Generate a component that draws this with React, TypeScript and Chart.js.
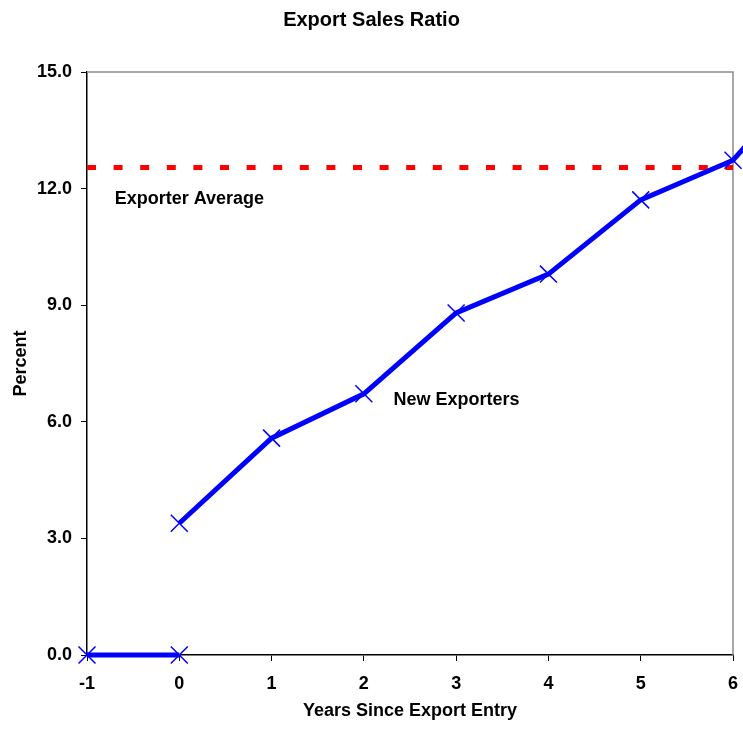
import React, { useEffect, useRef } from 'react';
import { Chart, registerables } from 'chart.js';

Chart.register(...registerables);

const FONT = "'Liberation Sans', Arial, Helvetica, sans-serif";

// Data
const preEntryYears = [-1, 0];
const preEntryValues = [0, 0];
const newExporterYears = [0, 1, 2, 3, 4, 5, 6, 7];
const newExporterValues = [3.39, 5.58, 6.72, 8.8, 9.8, 11.71, 12.73, 15.4];
const averageYears = [-1, 6];
const averageValues = [12.54, 12.54];
const xRange = [-1, 6];
const yRange = [0, 15];

const TITLE = 'Export Sales Ratio';
const X_TITLE = 'Years Since Export Entry';
const Y_TITLE = 'Percent';

const notes = [
  { text: 'Exporter Average', x: -0.7, y: 11.73 },
  { text: 'New Exporters', x: 2.32, y: 6.56 },
];

const BLUE = '#0000ff';
const RED = '#ff0000';

const framePlugin = {
  id: 'frame',
  beforeDatasetsDraw(chart: any) {
    const { ctx, chartArea: a } = chart;
    ctx.save();
    ctx.strokeStyle = '#8c8c8c';
    ctx.lineWidth = 1.5;
    ctx.beginPath();
    ctx.moveTo(a.left, a.top);
    ctx.lineTo(a.right, a.top);
    ctx.lineTo(a.right, a.bottom);
    ctx.stroke();
    ctx.restore();
  },
};

const notesPlugin = {
  id: 'notes',
  afterDatasetsDraw(chart: any) {
    const { ctx, scales } = chart;
    ctx.save();
    ctx.fillStyle = '#000';
    ctx.font = `bold 18px ${FONT}`;
    ctx.textAlign = 'left';
    ctx.textBaseline = 'middle';
    for (const n of notes) {
      ctx.fillText(n.text, scales.x.getPixelForValue(n.x), scales.y.getPixelForValue(n.y));
    }
    ctx.restore();
  },
};

export default function App() {
  const ref = useRef<HTMLCanvasElement>(null);

  useEffect(() => {
    if (!ref.current) return;
    const toPts = (xs: number[], ys: number[]) => xs.map((x, i) => ({ x, y: ys[i] }));
    const tickFont = { family: FONT, size: 18, weight: 'bold' as const };
    const chart = new Chart(ref.current, {
      type: 'line',
      data: {
        datasets: [
          {
            label: 'Pre-entry',
            data: toPts(preEntryYears, preEntryValues),
            borderColor: BLUE,
            borderWidth: 5,
            pointStyle: 'crossRot',
            pointRadius: 12,
            pointBorderWidth: 1.5,
            pointBorderColor: BLUE,
            pointBackgroundColor: BLUE,
            tension: 0,
            clip: false,
          },
          {
            label: 'New Exporters',
            data: toPts(newExporterYears, newExporterValues),
            borderColor: BLUE,
            borderWidth: 5,
            pointStyle: 'crossRot',
            pointRadius: 12,
            pointBorderWidth: 1.5,
            pointBorderColor: BLUE,
            pointBackgroundColor: BLUE,
            tension: 0,
            clip: false,
          },
          {
            label: 'Exporter Average',
            data: toPts(averageYears, averageValues),
            borderColor: RED,
            borderWidth: 5,
            borderDash: [9, 17.6],
            borderCapStyle: 'butt',
            pointRadius: 0,
            tension: 0,
          },
        ],
      },
      options: {
        responsive: false,
        animation: false,
        events: [],
        layout: { autoPadding: false, padding: { left: 10, right: 10, top: 0, bottom: 0 } },
        plugins: {
          legend: { display: false },
          tooltip: { enabled: false },
          title: {
            display: true,
            text: TITLE,
            color: '#000',
            font: { family: FONT, size: 20, weight: 'bold' },
            padding: { top: 8, bottom: 40 },
          },
        },
        scales: {
          x: {
            type: 'linear',
            afterDataLimits: (s: any) => {
              s.min = xRange[0];
              s.max = xRange[1];
            },
            afterFit: (s: any) => {
              s.height = 75;
              s.paddingLeft = 0;
              s.paddingRight = 0;
            },
            ticks: {
              stepSize: 1,
              color: '#000',
              font: tickFont,
              padding: 12,
              maxRotation: 0,
              callback: (v: any) => String(v),
            },
            grid: {
              display: true,
              drawOnChartArea: false,
              drawTicks: true,
              tickLength: 6,
              color: '#000',
              lineWidth: 1,
            },
            border: { display: true, color: '#000', width: 1.5 },
            title: {
              display: true,
              text: X_TITLE,
              color: '#000',
              font: tickFont,
              padding: { top: 4, bottom: 8 },
            },
          },
          y: {
            type: 'linear',
            min: yRange[0],
            max: yRange[1],
            afterFit: (s: any) => {
              s.width = 77;
            },
            ticks: {
              stepSize: 3,
              color: '#000',
              font: tickFont,
              padding: 9,
              callback: (v: any) => Number(v).toFixed(1),
            },
            grid: {
              display: true,
              drawOnChartArea: false,
              drawTicks: true,
              tickLength: 6,
              color: '#000',
              lineWidth: 1,
            },
            border: { display: true, color: '#000', width: 1.5 },
            title: {
              display: true,
              text: Y_TITLE,
              color: '#000',
              font: tickFont,
              padding: { top: 0, bottom: 4 },
            },
          },
        },
      },
      plugins: [framePlugin, notesPlugin],
    } as any);
    return () => chart.destroy();
  }, []);

  return (
    <div style={{ position: 'absolute', left: 0, top: 0, width: 743, height: 730, background: '#fff' }}>
      <canvas ref={ref} width={743} height={730} style={{ display: 'block' }} />
    </div>
  );
}
